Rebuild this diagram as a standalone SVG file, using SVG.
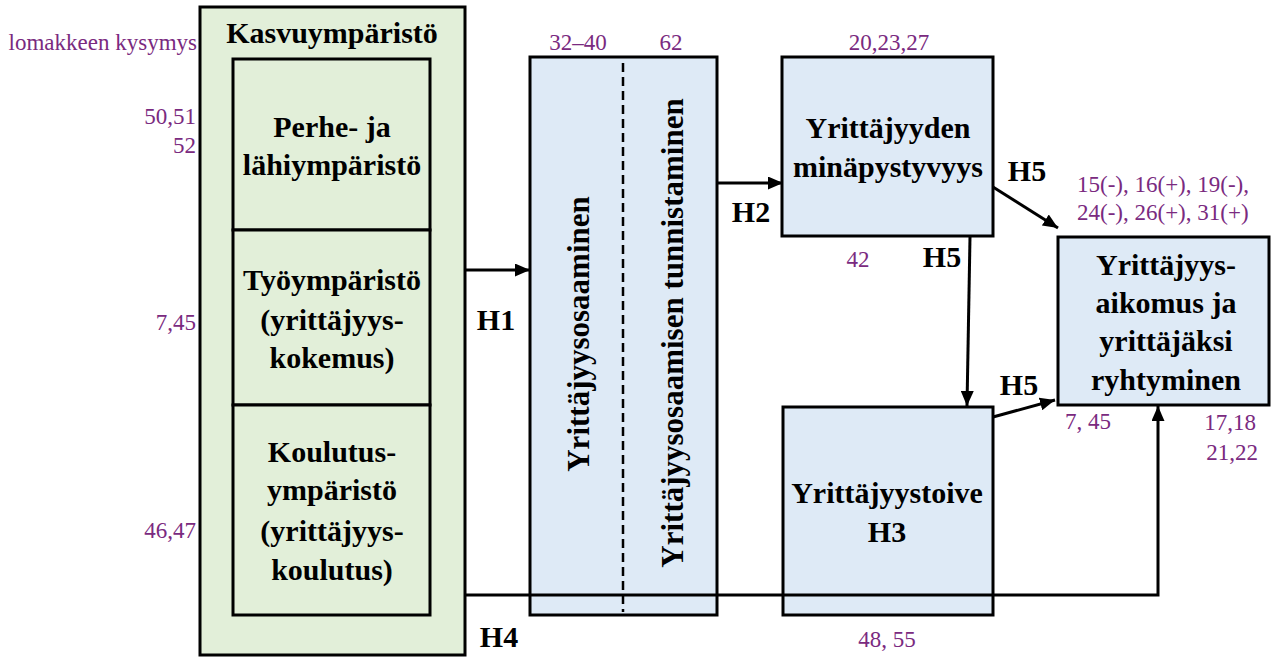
<svg xmlns="http://www.w3.org/2000/svg" width="1273" height="657" viewBox="0 0 1273 657">
<defs>
<style>
.b{font-family:'Liberation Serif','Times New Roman',Times,'DejaVu Serif','Noto Serif',serif;font-weight:bold;font-size:30px;fill:#000;text-anchor:middle}
.v{font-family:'Liberation Serif','Times New Roman',Times,'DejaVu Serif','Noto Serif',serif;font-weight:bold;font-size:31px;fill:#000;text-anchor:middle}
.p{font-family:'Liberation Serif','Times New Roman',Times,'DejaVu Serif','Noto Serif',serif;font-size:23px;fill:#7A2A80}
.r{text-anchor:end}
.m{text-anchor:middle}
.g{fill:#E2EFD9;stroke:#000;stroke-width:3}
.bl{fill:#DEEAF6;stroke:#000;stroke-width:3}
.c{fill:none;stroke:#000;stroke-width:3}
</style>
<marker id="ah" markerUnits="userSpaceOnUse" markerWidth="15" markerHeight="13" refX="15" refY="6.5" orient="auto">
<path d="M0,0 L15,6.5 L0,13 z" fill="#000"/>
</marker>
</defs>
<rect width="1273" height="657" fill="#fff"/>

<g id="labels-left">
<text class="p r" x="197" y="50">lomakkeen kysymys</text>
<text class="p r" x="196" y="124">50,51</text>
<text class="p r" x="196" y="153">52</text>
<text class="p r" x="196" y="330">7,45</text>
<text class="p r" x="196" y="538">46,47</text>
</g>

<g id="kasvuymparisto">
<rect class="g" x="200" y="7" width="265" height="648"/>
<text class="b" x="332" y="43">Kasvuympäristö</text>
</g>
<g id="perhe">
<rect class="g" x="233" y="59" width="197" height="171"/>
<text class="b" x="332" y="137">Perhe- ja</text>
<text class="b" x="332" y="175">lähiympäristö</text>
</g>
<g id="tyoymparisto">
<rect class="g" x="233" y="230" width="197" height="175"/>
<text class="b" x="332" y="290">Työympäristö</text>
<text class="b" x="332" y="330">(yrittäjyys-</text>
<text class="b" x="332" y="368">kokemus)</text>
</g>
<g id="koulutus">
<rect class="g" x="233" y="405" width="197" height="210"/>
<text class="b" x="332" y="462">Koulutus-</text>
<text class="b" x="332" y="500">ympäristö</text>
<text class="b" x="332" y="541">(yrittäjyys-</text>
<text class="b" x="332" y="580">koulutus)</text>
</g>

<g id="osaaminen">
<rect class="bl" x="530" y="57" width="187" height="558"/>
<line x1="623" y1="63" x2="623" y2="612" stroke="#000" stroke-width="2.5" stroke-dasharray="9,5"/>
<text class="v" transform="translate(589,334) rotate(-90)">Yrittäjyysosaaminen</text>
<text class="v" transform="translate(683,333) rotate(-90)">Yrittäjyysosaamisen tunnistaminen</text>
<text class="p m" x="578" y="50">32–40</text>
<text class="p m" x="671" y="50">62</text>
</g>

<g id="minapystyvyys">
<rect class="bl" x="782" y="57" width="211" height="179"/>
<text class="b" x="888" y="138">Yrittäjyyden</text>
<text class="b" x="888" y="177">minäpystyvyys</text>
<text class="p m" x="889" y="50">20,23,27</text>
<text class="p m" x="858" y="267">42</text>
</g>

<g id="yrittajyystoive">
<rect class="bl" x="783" y="407" width="210" height="208"/>
<text class="b" x="887" y="503">Yrittäjyystoive</text>
<text class="b" x="887" y="542">H3</text>
<text class="p m" x="887" y="647">48, 55</text>
</g>

<g id="aikomus">
<rect class="bl" x="1058" y="237" width="211" height="168"/>
<text class="b" x="1166" y="275">Yrittäjyys-</text>
<text class="b" x="1166" y="313">aikomus ja</text>
<text class="b" x="1166" y="351">yrittäjäksi</text>
<text class="b" x="1166" y="390">ryhtyminen</text>
<text class="p" x="1077" y="192">15(-), 16(+), 19(-),</text>
<text class="p" x="1077" y="220">24(-), 26(+), 31(+)</text>
<text class="p" x="1065" y="429">7, 45</text>
<text class="p r" x="1256" y="430">17,18</text>
<text class="p r" x="1258" y="460">21,22</text>
</g>

<g id="connectors">
<line class="c" x1="465" y1="270" x2="530" y2="270" marker-end="url(#ah)"/>
<line class="c" x1="717" y1="183" x2="783" y2="183" marker-end="url(#ah)"/>
<line class="c" x1="993" y1="187" x2="1058" y2="228" marker-end="url(#ah)"/>
<line class="c" x1="970" y1="237" x2="967" y2="406" marker-end="url(#ah)"/>
<line class="c" x1="993" y1="417" x2="1055" y2="400" marker-end="url(#ah)"/>
<polyline class="c" points="465,595 1158,595 1158,406" marker-end="url(#ah)"/>
<text class="b" x="496" y="330">H1</text>
<text class="b" x="751" y="222">H2</text>
<text class="b" x="1027" y="181">H5</text>
<text class="b" x="942" y="267">H5</text>
<text class="b" x="1019" y="395">H5</text>
<text class="b" x="499" y="647">H4</text>
</g>
</svg>
